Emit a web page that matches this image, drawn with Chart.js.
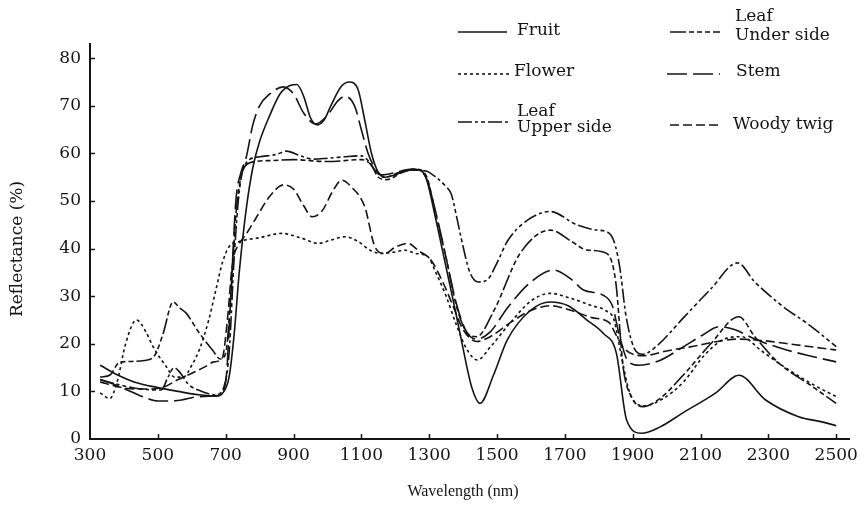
<!DOCTYPE html>
<html>
<head>
<meta charset="utf-8">
<script src="https://cdn.jsdelivr.net/npm/chart.js@4.4.1/dist/chart.umd.min.js"></script>
<style>
  html, body { margin: 0; padding: 0; background: #fff; }
  canvas { display: block; }
</style>
</head>
<body>
<canvas id="spectra" width="864" height="505"></canvas>
<script>
// === Data (wavelength nm, reflectance %) ===
const xTicks = [300, 500, 700, 900, 1100, 1300, 1500, 1700, 1900, 2100, 2300, 2500];
const yTicks = [0, 10, 20, 30, 40, 50, 60, 70, 80];
const seriesNames = ['Fruit', 'Flower', 'Leaf\nUpper side', 'Leaf\nUnder side', 'Stem', 'Woody twig'];

const fruit = [
  [330,15.5],[380,13.5],[430,12],[500,10.8],[560,10],[620,9.3],[670,9],[695,10],[710,13],[725,22],
  [740,35],[760,48],[780,57],[800,62.5],[830,68],[860,72.5],[890,74.3],[910,74.5],[930,72],[950,67.5],
  [970,66],[990,67],[1010,70],[1040,74],[1065,75],[1090,73.5],[1110,67],[1130,60],[1150,56],[1170,55],
  [1200,55.5],[1240,56.5],[1270,56.5],[1290,55],[1320,46],[1350,36],[1380,26],[1400,19],[1425,11],[1450,7.5],
  [1490,13.5],[1530,20.8],[1598,27],[1657,28.8],[1710,28],[1765,25],[1813,22.2],[1852,18],[1882,4],[1926,1.2],
  [1980,2.5],[2048,5.5],[2145,9.7],[2213,13.4],[2292,8.2],[2389,4.7],[2458,3.6],[2500,2.8]
];
const flower = [
  [330,9.7],[358,8.5],[380,12],[405,20],[437,25],[465,22.5],[485,19.5],[525,15.2],[550,13],[575,13],
  [600,15.5],[622,18.7],[650,25],[671,31.3],[690,37],[710,40.4],[740,41.5],[800,42.3],[866,43.2],[920,42.3],
  [974,41.1],[1010,41.8],[1052,42.5],[1090,41.5],[1130,39.5],[1159,39],[1200,39.3],[1227,39.7],[1260,39],[1296,38.3],
  [1320,34.9],[1350,30],[1380,24],[1410,19],[1442,16.6],[1481,19.4],[1540,24.5],[1600,29],[1657,30.6],[1720,29.5],
  [1780,28],[1820,27],[1845,25],[1865,18],[1890,10],[1930,7],[1990,8.5],[2050,12],[2110,17.5],[2170,21],
  [2220,21.5],[2280,18.5],[2350,15],[2430,11.5],[2500,8.9]
];
const leafUpper = [
  [330,12.5],[380,11.5],[450,10.5],[510,10.3],[530,13],[548,15],[565,14],[590,11.5],[630,10],[670,9.3],
  [695,11],[710,18],[725,38],[740,52],[760,58],[800,59.3],[850,59.8],[880,60.5],[920,59.5],[960,58.8],
  [1000,59],[1050,59.3],[1100,59.5],[1120,58.5],[1145,56],[1170,55],[1210,56],[1250,56.5],[1290,56.3],[1320,55],
  [1350,53],[1365,51.5],[1380,47],[1395,42],[1420,35],[1445,33],[1472,33.5],[1500,37],[1530,41.5],[1590,46],
  [1657,47.8],[1735,45],[1794,43.9],[1825,43.5],[1845,41.5],[1862,36],[1880,26],[1905,19],[1930,17.8],[1970,19.5],
  [2050,25.5],[2130,31.5],[2209,37],[2260,33],[2340,28],[2420,24],[2500,19.4]
];
const leafUnder = [
  [330,13],[360,13.5],[385,16],[420,16.3],[460,16.5],[490,17.5],[515,22],[545,28.8],[565,27.5],[583,26.5],
  [620,22.5],[661,18.7],[685,16.8],[700,18],[715,30],[730,47],[745,55],[770,58],[830,58.5],[900,58.7],
  [1000,58.3],[1100,58.7],[1130,57.5],[1150,55],[1175,54.5],[1220,56],[1260,56.7],[1290,55.5],[1320,47],[1350,38],
  [1380,28],[1410,22.5],[1440,21.5],[1491,27],[1568,39],[1657,43.9],[1720,41.5],[1765,39.7],[1823,39],[1850,33],
  [1872,15],[1895,9],[1930,6.8],[1980,8.5],[2050,13.5],[2130,20],[2213,25.7],[2260,21.5],[2330,16],[2420,11.5],
  [2500,7.5]
];
const stem = [
  [330,12.5],[370,11.5],[420,10],[470,8.5],[500,8],[540,8],[570,8.2],[610,8.8],[650,9],[680,9.2],
  [700,12],[715,30],[730,50],[745,56],[760,59],[780,66],[800,70],[830,72.5],[870,74],[900,72.5],
  [930,68.5],[965,66.2],[1000,68],[1030,71],[1052,72],[1080,70],[1100,65],[1120,60],[1140,57],[1160,55.5],
  [1200,56],[1250,56.7],[1290,55],[1320,47.5],[1350,38],[1380,28.5],[1410,22.5],[1440,21],[1480,22.5],[1530,27.5],
  [1600,33],[1667,35.5],[1720,33.5],[1755,31.3],[1813,30.2],[1840,28],[1860,22],[1885,16.5],[1920,15.5],[1980,16.5],
  [2050,19.4],[2110,22],[2154,23.6],[2200,23],[2260,21],[2340,19],[2420,17.5],[2500,16.2]
];
const woodyTwig = [
  [330,12],[380,11],[430,10.5],[480,10.5],[520,11],[560,12.5],[600,13.8],[640,15.2],[665,16.2],[690,17],
  [705,25],[720,37],[740,41],[760,43],[790,46.5],[830,51],[871,53.4],[900,52.5],[930,49],[955,46.7],
  [985,48],[1015,52],[1042,54.4],[1070,53],[1110,48.8],[1140,40.4],[1169,39],[1200,40.3],[1237,41.1],[1270,39.5],
  [1305,37.6],[1340,33],[1370,28],[1400,23],[1440,20.5],[1480,21.5],[1540,24.5],[1600,27],[1657,28],[1720,27],
  [1780,25.5],[1830,24.5],[1850,22],[1875,19],[1930,17.5],[2000,18.5],[2080,19.5],[2150,20.5],[2210,21],[2280,20.7],
  [2380,19.8],[2500,18.7]
];

// === Styles ===
const ink = '#141414';
const serif = "'DejaVu Serif', 'Liberation Serif', serif";
const dashes = [[], [3, 3], [14, 3, 3, 3, 4, 3], [16, 3, 5, 3, 5, 3, 5, 3], [20, 6], [9, 4]];
const allSeries = [fruit, flower, leafUpper, leafUnder, stem, woodyTwig];

const toPoints = arr => arr.map(([x, y]) => ({ x, y }));

// legend slots: line start/end, text x, text y (first line), line gap
const legendSlots = [
  { x1: 458, x2: 507, ly: 32, tx: 517, ty: 31, gap: 17 },
  { x1: 458, x2: 512, ly: 74, tx: 514, ty: 72, gap: 17 },
  { x1: 458, x2: 510, ly: 122, tx: 517, ty: 112, gap: 16 },
  { x1: 670, x2: 720, ly: 32, tx: 735, ty: 17, gap: 19 },
  { x1: 667, x2: 720, ly: 74, tx: 736, ty: 72, gap: 17 },
  { x1: 670, x2: 722, ly: 125, tx: 733, ty: 125, gap: 17 }
];

// === Inward ticks, axis titles and legend ===
const decorations = {
  id: 'decorations',
  afterDraw(chart) {
    const { ctx, chartArea, scales: { x, y } } = chart;
    ctx.save();
    ctx.strokeStyle = ink;
    ctx.lineWidth = 1.5;
    xTicks.slice(1).forEach(v => {
      const px = Math.round(x.getPixelForValue(v)) + 0.5;
      ctx.beginPath();
      ctx.moveTo(px, chartArea.bottom);
      ctx.lineTo(px, chartArea.bottom - 5);
      ctx.stroke();
    });
    yTicks.slice(1).forEach(v => {
      const py = Math.round(y.getPixelForValue(v)) + 0.5;
      ctx.beginPath();
      ctx.moveTo(chartArea.left, py);
      ctx.lineTo(chartArea.left + 5, py);
      ctx.stroke();
    });

    // axis titles
    ctx.fillStyle = ink;
    ctx.textAlign = 'center';
    ctx.textBaseline = 'middle';
    ctx.font = "16px 'Liberation Serif', serif";
    ctx.fillText('Wavelength (nm)', 463, 492);
    ctx.save();
    ctx.translate(18, 249);
    ctx.rotate(-Math.PI / 2);
    ctx.font = '17px ' + serif;
    ctx.fillText('Reflectance (%)', 0, 0);
    ctx.restore();

    // legend
    ctx.textAlign = 'left';
    ctx.font = '17px ' + serif;
    chart.data.datasets.forEach((ds, i) => {
      const s = legendSlots[i];
      ctx.setLineDash(ds.borderDash);
      ctx.lineWidth = 1.6;
      ctx.beginPath();
      ctx.moveTo(s.x1, s.ly);
      ctx.lineTo(s.x2, s.ly);
      ctx.stroke();
      ctx.setLineDash([]);
      ds.label.split('\n').forEach((line, k) => ctx.fillText(line, s.tx, s.ty + k * s.gap));
    });
    ctx.restore();
  }
};

// === Chart ===
new Chart(document.getElementById('spectra'), {
  type: 'line',
  data: {
    datasets: allSeries.map((arr, i) => ({
      label: seriesNames[i],
      data: toPoints(arr),
      borderColor: ink,
      borderWidth: 1.6,
      borderDash: dashes[i],
      pointRadius: 0,
      fill: false,
      tension: 0.4,
      cubicInterpolationMode: 'monotone'
    }))
  },
  options: {
    responsive: false,
    animation: false,
    devicePixelRatio: 1,
    layout: { padding: { top: 44, right: 9, left: 0, bottom: 0 } },
    plugins: { legend: { display: false }, tooltip: { enabled: false } },
    scales: {
      x: {
        type: 'linear',
        min: 300,
        max: 2540,
        afterBuildTicks: s => { s.ticks = xTicks.map(v => ({ value: v })); },
        afterFit: s => { s.height = 66; },
        grid: { drawOnChartArea: false, drawTicks: false },
        border: { color: ink, width: 2 },
        ticks: {
          color: ink, font: { family: serif, size: 17 }, padding: 6,
          maxRotation: 0, autoSkip: false, callback: v => String(v)
        }
      },
      y: {
        min: 0,
        max: 83,
        afterBuildTicks: s => { s.ticks = yTicks.map(v => ({ value: v })); },
        afterFit: s => { s.width = 90; },
        grid: { drawOnChartArea: false, drawTicks: false },
        border: { color: ink, width: 2 },
        ticks: { color: ink, font: { family: serif, size: 17 }, padding: 9, callback: v => String(v) }
      }
    }
  },
  plugins: [decorations]
});
</script>
</body>
</html>
